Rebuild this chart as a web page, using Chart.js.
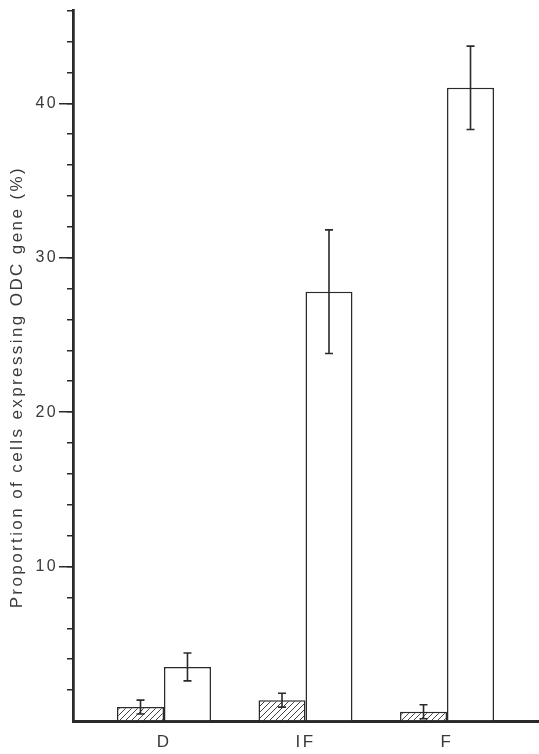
<!DOCTYPE html>
<html>
<head>
<meta charset="utf-8">
<script src="https://cdn.jsdelivr.net/npm/chart.js@4"></script>
<style>
  html, body { margin: 0; padding: 0; background: #fff; }
  #wrap { width: 539px; height: 754px; }
</style>
</head>
<body>
<div id="wrap"><canvas id="myChart"></canvas></div>
<script>
// values
const categories = ['D', 'IF', 'F'];
const hatchedValues = [0.9, 1.35, 0.6];
const hatchedErrors = [0.45, 0.45, 0.45];
const openValues = [3.5, 27.8, 41.0];
const openErrors = [0.9, 4.0, 2.7];
const yTickLabels = [10, 20, 30, 40];

const ink = '#2a2a2a';
const textColor = '#3a3a3a';

// diagonal hatch fill
function makeHatch() {
    const size = 6;
    const c = document.createElement('canvas');
    c.width = size;
    c.height = size;
    const g = c.getContext('2d');
    g.fillStyle = '#fff';
    g.fillRect(0, 0, size, size);
    g.strokeStyle = '#444';
    g.lineWidth = 1;
    g.beginPath();
    g.moveTo(0, size);
    g.lineTo(size, 0);
    g.moveTo(-1, 1);
    g.lineTo(1, -1);
    g.moveTo(size - 1, size + 1);
    g.lineTo(size + 1, size - 1);
    g.stroke();
    return g.createPattern(c, 'repeat');
}

// spaced-out lettering like the printed figure
const spacing = {
    id: 'spacing',
    beforeDraw(chart) {
        chart.ctx.letterSpacing = '2.4px';
    }
};

// error bars drawn with the chart's own scales
const errorBars = {
    id: 'errorBars',
    afterDatasetsDraw(chart) {
        const ctx = chart.ctx;
        const yScale = chart.scales.y;
        ctx.save();
        ctx.strokeStyle = ink;
        ctx.lineWidth = 1.6;
        chart.data.datasets.forEach((ds, di) => {
            const meta = chart.getDatasetMeta(di);
            meta.data.forEach((bar, i) => {
                const v = ds.data[i].y;
                const e = ds.errors[i];
                const yTop = yScale.getPixelForValue(v + e);
                const yBot = yScale.getPixelForValue(v - e);
                const x = bar.x;
                ctx.beginPath();
                ctx.moveTo(x, yTop);
                ctx.lineTo(x, yBot);
                ctx.moveTo(x - 4, yTop);
                ctx.lineTo(x + 4, yTop);
                ctx.moveTo(x - 4, yBot);
                ctx.lineTo(x + 4, yBot);
                ctx.stroke();
            });
        });
        ctx.restore();
    }
};

const hideZero = (c) => c.tick && c.tick.value === 0 ? 'rgba(0,0,0,0)' : ink;

const ctx = document.getElementById('myChart');
new Chart(ctx, {
    type: 'bar',
    data: {
        datasets: [
            {
                label: 'hatched',
                data: hatchedValues.map((v, i) => ({ x: i, y: v })),
                errors: hatchedErrors,
                backgroundColor: makeHatch(),
                borderColor: ink,
                borderWidth: 1.5,
                categoryPercentage: 0.664,
                barPercentage: 1
            },
            {
                label: 'open',
                data: openValues.map((v, i) => ({ x: i, y: v })),
                errors: openErrors,
                backgroundColor: '#fff',
                borderColor: ink,
                borderWidth: 1.5,
                categoryPercentage: 0.664,
                barPercentage: 1
            }
        ]
    },
    options: {
        responsive: true,
        maintainAspectRatio: false,
        animation: false,
        layout: { padding: { top: 5, right: 0, left: 0, bottom: 0 } },
        plugins: {
            legend: { display: false },
            tooltip: { enabled: false }
        },
        scales: {
            x: {
                type: 'linear',
                offset: false,
                min: -0.643,
                max: 2.65,
                grid: { display: false, drawTicks: false },
                border: { display: true, color: ink, width: 3 },
                ticks: {
                    stepSize: 1,
                    includeBounds: false,
                    autoSkip: false,
                    maxRotation: 0,
                    padding: 11,
                    color: textColor,
                    font: { family: 'Liberation Sans', size: 17 },
                    callback: (v) => Number.isInteger(v) && categories[v] !== undefined ? categories[v] : ''
                },
                afterFit: (s) => { s.height = 33; }
            },
            // minor ticks every 2
            y: {
                min: 0,
                max: 46,
                weight: 0,
                border: { display: true, color: ink, width: 2.5 },
                grid: {
                    drawOnChartArea: false,
                    drawTicks: true,
                    tickLength: 6,
                    lineWidth: 1.5,
                    color: hideZero
                },
                ticks: {
                    stepSize: 2,
                    autoSkip: false,
                    padding: 0,
                    callback: () => ''
                },
                afterFit: (s) => { s.width = 0; }
            },
            // major ticks with labels every 10
            y2: {
                position: 'left',
                min: 0,
                max: 46,
                weight: 1,
                border: { display: true, color: ink, width: 2.5 },
                grid: {
                    drawOnChartArea: false,
                    drawTicks: true,
                    tickLength: 14,
                    lineWidth: 1.5,
                    color: hideZero
                },
                ticks: {
                    stepSize: 10,
                    includeBounds: false,
                    autoSkip: false,
                    padding: 1,
                    color: textColor,
                    font: { family: 'Liberation Sans', size: 16 },
                    callback: (v) => yTickLabels.includes(v) ? String(v) : ''
                },
                title: {
                    display: true,
                    // trailing spaces nudge the printed title down the axis
                    text: 'Proportion of cells expressing ODC gene (%)      ',
                    color: textColor,
                    font: { family: 'Liberation Sans', size: 17 },
                    padding: { top: 7, bottom: 0 }
                },
                afterFit: (s) => { s.width = 73; }
            }
        }
    },
    plugins: [spacing, errorBars]
});
</script>
</body>
</html>
